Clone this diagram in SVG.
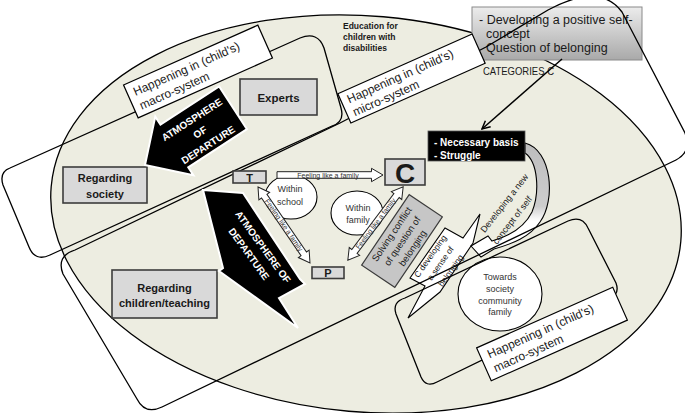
<svg xmlns="http://www.w3.org/2000/svg" width="685" height="413" viewBox="0 0 685 413">
<defs>
<style>
.ol{fill:none;stroke:#000;stroke-width:1.3;stroke-linejoin:round}
.lbl{fill:#fff;stroke:#000;stroke-width:1.2}
.gb{fill:#d9d9d9;stroke:#3c3c3c;stroke-width:1.6}
.wn{fill:#fff;stroke:#000;stroke-width:1.1}
.fa{fill:#fff;stroke:#222;stroke-width:1}
.t{font-family:"Liberation Sans",Arial,sans-serif;fill:#1a1a1a}
.b{font-weight:bold}
.lab{font-size:12px}
.sm{font-size:9px;fill:#333}
.fl{font-size:7px;fill:#333}
.bk{fill:#000;stroke:#fff;stroke-width:2;stroke-linejoin:miter}
.wt{font-family:"Liberation Sans",Arial,sans-serif;font-weight:bold;fill:#fff;font-size:10px}
</style>
<linearGradient id="gg" x1="0" y1="0" x2="0" y2="1">
<stop offset="0" stop-color="#ececec"/>
<stop offset="1" stop-color="#a9a9a9"/>
</linearGradient>
<linearGradient id="cg" gradientUnits="userSpaceOnUse" x1="0" y1="143" x2="0" y2="258">
<stop offset="0" stop-color="#bdbdbd"/>
<stop offset="0.55" stop-color="#cdcdcd"/>
<stop offset="0.68" stop-color="#ffffff"/>
<stop offset="1" stop-color="#ffffff"/>
</linearGradient>
<marker id="ah" viewBox="0 0 10 10" refX="9" refY="5" markerWidth="10" markerHeight="10" markerUnits="userSpaceOnUse" orient="auto">
<path d="M1,1 L9,5 L1,9" fill="none" stroke="#000" stroke-width="1.5"/>
</marker>
</defs>

<g id="education-ellipse">
<ellipse cx="366" cy="214" rx="316" ry="198" transform="rotate(5 366 214)" fill="#edede1" stroke="#000" stroke-width="1.3"/>
<text class="t b" font-size="8.5"><tspan x="343" y="29">Education for</tspan><tspan x="343" y="40">children with</tspan><tspan x="343" y="51">disabilities</tspan></text>
</g>

<g id="categories-box">
<rect x="472" y="7" width="170" height="53" fill="url(#gg)" stroke="#8a8a8a" stroke-width="1"/>
<text class="t" font-size="12.5" fill="#262626"><tspan x="479" y="24">- Developing a positive self-</tspan><tspan x="486" y="38">concept</tspan><tspan x="486" y="52">Question of belonging</tspan></text>
<text class="t" x="483" y="75" font-size="11" textLength="71" lengthAdjust="spacingAndGlyphs" fill="#3a3a3a">CATEGORIES C</text>
</g>

<g id="towards">
<ellipse class="wn" cx="500" cy="294" rx="42" ry="37"/>
<text class="t sm" text-anchor="middle"><tspan x="500" y="280">Towards</tspan><tspan x="500" y="292">society</tspan><tspan x="500" y="304">community</tspan><tspan x="500" y="315">family</tspan></text>
</g>

<g id="sense-of-belonging">
<polygon class="wn" points="410,278 445,228 463,238 480,214 473,243 440,292 408,318 425,286"/>
<text class="t" font-size="8.5" fill="#222" text-anchor="middle" transform="translate(440,263) rotate(-55)"><tspan x="0" y="-9">C developing</tspan><tspan x="0" y="3.5">a sense of</tspan><tspan x="0" y="16">belonging</tspan></text>
</g>

<g id="new-concept">
<path d="M525,143 C552,150 556,200 540,222 C530,237 512,244 494,249 L481,257 L471,246 L488,236 L492,241 C510,236 524,228 532,212 C540,192 538,162 525,153 Z" fill="url(#cg)" stroke="#000" stroke-width="1.1"/>
<text class="t" font-size="9" fill="#222" text-anchor="middle" transform="translate(504,203) rotate(-52)" y="3.5">Developing a new</text>
<text class="t" font-size="9" fill="#222" text-anchor="middle" transform="translate(512,220) rotate(-52)" y="3.5">concept of self</text>
</g>

<g id="regions">
<path class="ol" d="M10,168 L300,38 Q318,31 324,48 L341,108 Q345,122 332,126 L50,255 Q35,262 29,247 L3,185 Q-1,172 10,168 Z"/>
<path class="ol" d="M75,250 L340,123 L486,47 L548,10 Q600,-18 622,12 L685,133 Q692,152 676,160 L162,407 Q145,415 137,399 L63,274 Q56,256 75,250 Z"/>
<path class="ol" d="M405,298 L568,221 Q582,215 588,228 L616,283 Q620,294 610,298 L437,382 Q426,388 421,377 L396,314 Q392,302 405,298 Z"/>
</g>

<g id="macro-label-top" transform="translate(198,71.5) rotate(-24)">
<rect class="lbl" x="-73.5" y="-18" width="147" height="36"/>
<text class="t lab"><tspan x="-67" y="-3">Happening in (child's)</tspan><tspan x="-67" y="12">macro-system</tspan></text>
</g>
<g id="micro-label" transform="translate(411.5,78.5) rotate(-24)">
<rect class="lbl" x="-73.5" y="-16" width="147" height="32"/>
<text class="t lab"><tspan x="-67" y="-2.5">Happening in (child's)</tspan><tspan x="-67" y="11.5">micro-system</tspan></text>
</g>
<g id="macro-label-bottom" transform="translate(552,334) rotate(-24)">
<rect class="lbl" x="-74.5" y="-18" width="149" height="36"/>
<text class="t lab"><tspan x="-67" y="-3">Happening in (child's)</tspan><tspan x="-67" y="12">macro-system</tspan></text>
</g>

<g id="experts">
<rect class="gb" x="240" y="79" width="77" height="36"/>
<text class="t b" font-size="11.5" x="278.5" y="102" text-anchor="middle">Experts</text>
</g>
<g id="regarding-society">
<rect class="gb" x="63" y="167" width="84" height="36"/>
<text class="t b" font-size="11" text-anchor="middle"><tspan x="105" y="182">Regarding</tspan><tspan x="105" y="198">society</tspan></text>
</g>
<g id="regarding-children">
<rect class="gb" x="112" y="270" width="105" height="48"/>
<text class="t b" font-size="11" text-anchor="middle"><tspan x="164.5" y="292">Regarding</tspan><tspan x="164.5" y="307">children/teaching</tspan></text>
</g>

<g id="atmosphere-1" transform="translate(145,165) rotate(-33)">
<polygon class="bk" points="0,0 35,-35 35,-25.5 105,-25.5 105,25.5 35,25.5 35,35"/>
<text class="wt" text-anchor="middle"><tspan x="64" y="-9">ATMOSPHERE</tspan><tspan x="64" y="6">OF</tspan><tspan x="64" y="21">DEPARTURE</tspan></text>
</g>
<g id="atmosphere-2">
<polygon class="bk" points="203,190 243,193 300,279 305,284 279,298 298,328 219,271 223,268"/>
<text class="wt" text-anchor="middle" transform="translate(263,247) rotate(54)" y="3.5">ATMOSPHERE OF</text>
<text class="wt" text-anchor="middle" transform="translate(249,254) rotate(54)" y="3.5">DEPARTURE</text>
</g>

<g id="within-school">
<ellipse class="wn" cx="291" cy="197" rx="26" ry="22"/>
<text class="t sm" text-anchor="middle"><tspan x="290" y="192">Within</tspan><tspan x="290" y="205">school</tspan></text>
</g>
<g id="within-family">
<ellipse class="wn" cx="357" cy="213" rx="26" ry="22"/>
<text class="t sm" text-anchor="middle"><tspan x="358" y="211">Within</tspan><tspan x="358" y="223">family</tspan></text>
</g>

<g id="solving-conflict" transform="translate(402,241) rotate(-56)">
<rect x="-42.5" y="-20" width="85" height="40" fill="#c6c6c6" stroke="#3c3c3c" stroke-width="1.2"/>
<text class="t" font-size="9.5" text-anchor="middle"><tspan x="0" y="-9">Solving conflict</tspan><tspan x="0" y="3.5">of question of</tspan><tspan x="0" y="16">belonging</tspan></text>
</g>

<g id="node-T">
<rect class="gb" x="233" y="171" width="33" height="12" stroke-width="1.3"/>
<text class="t b" font-size="11" x="249.5" y="181.5" text-anchor="middle">T</text>
</g>
<g id="node-P">
<rect class="gb" x="312" y="267" width="32" height="11.5" stroke-width="1.3"/>
<text class="t b" font-size="11" x="328" y="277" text-anchor="middle">P</text>
</g>
<g id="node-C">
<rect class="gb" x="385" y="159" width="40" height="26"/>
<text class="t b" font-size="28" x="405" y="183" text-anchor="middle">C</text>
</g>

<g id="basis">
<rect x="428" y="131" width="97" height="30" fill="#000" stroke="#555" stroke-width="0.8"/>
<text class="wt" font-size="9.5"><tspan x="434" y="146">- Necessary basis</tspan><tspan x="434" y="158.5">- Struggle</tspan></text>
</g>

<g id="connectors">
<line x1="562" y1="59" x2="482" y2="129" stroke="#000" stroke-width="1.5" marker-end="url(#ah)"/>
<g>
<path class="fa" d="M277,171.7 L371.5,171.7 L371.5,168.3 L383,175 L371.5,181.7 L371.5,178.3 L277,178.3 Z"/>
<text class="t fl" x="328" y="177.5" text-anchor="middle">Feeling like a family</text>
</g>
<g transform="translate(284,225) rotate(55.6)">
<path class="fa" d="M-46,0 L-35,-6.5 L-35,-3.3 L35,-3.3 L35,-6.5 L46,0 L35,6.5 L35,3.3 L-35,3.3 L-35,6.5 Z"/>
<text class="t fl" x="0" y="2.5" text-anchor="middle">Feeling like a family</text>
</g>
<g transform="translate(375.5,223.5) rotate(-53)">
<path class="fa" d="M-46,0 L-35,-6.5 L-35,-3.3 L35,-3.3 L35,-6.5 L46,0 L35,6.5 L35,3.3 L-35,3.3 L-35,6.5 Z"/>
<text class="t fl" x="0" y="2.5" text-anchor="middle">Feeling like a family</text>
</g>
</g>
</svg>
